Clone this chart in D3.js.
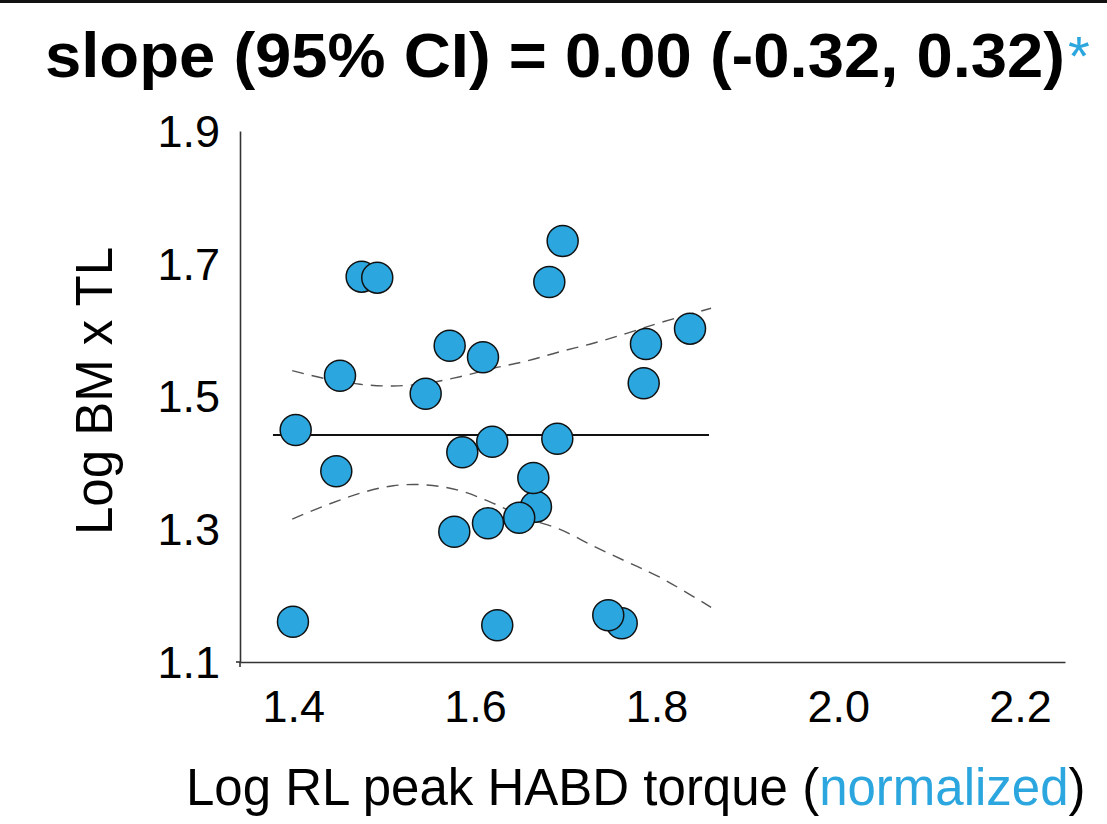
<!DOCTYPE html>
<html>
<head>
<meta charset="utf-8">
<script src="https://cdn.jsdelivr.net/npm/d3@7"></script>
<style>
  body { margin: 0; background: #fff; }
  svg { display: block; font-family: "Liberation Sans", Arial, Helvetica, sans-serif; }
</style>
</head>
<body>
<svg id="chart"></svg>
<script>
// Canvas size
var w = 1107;
var h = 824;

// Scatter points (drawn in this order, later ones sit on top)
var logTorque = [1.4753, 1.4925, 1.6966, 1.6819, 1.5722, 1.6089, 1.4515, 1.5458, 1.7883, 1.8368,
                 1.7858, 1.4027, 1.5861, 1.6191, 1.6907, 1.4474, 1.6672, 1.6643, 1.6488, 1.6144,
                 1.5773, 1.3997, 1.6246, 1.7616, 1.7468];
var logBMxTL = [1.6805, 1.6790, 1.7343, 1.6725, 1.5765, 1.5591, 1.5313, 1.5042, 1.5791, 1.6022,
                1.5199, 1.4495, 1.4159, 1.4319, 1.4364, 1.3873, 1.3340, 1.3772, 1.3174, 1.3090,
                1.2963, 1.1607, 1.1553, 1.1583, 1.1704];

// Regression line
var fitX = [1.3777, 1.8577];
var fitY = [1.442, 1.442];

// 95% confidence band
var ciX = [1.3989, 1.4368, 1.4735, 1.5101, 1.5469, 1.5836, 1.6202, 1.6570, 1.6937, 1.7303, 1.7671, 1.8037, 1.8600];
var ciUpper = [1.5389, 1.5264, 1.5184, 1.5158, 1.5199, 1.5298, 1.5425, 1.5535, 1.5675, 1.5802, 1.5952, 1.6112, 1.6329];
var ciLower = [1.3154, 1.3365, 1.3542, 1.3656, 1.3667, 1.3581, 1.3391, 1.3165, 1.2999, 1.2748, 1.2511, 1.2276, 1.1824];

// Tick labels
var xTicks = [1.4, 1.6, 1.8, 2.0, 2.2];
var yTicks = [1.1, 1.3, 1.5, 1.7, 1.9];

var blue = "#2ba6de";

var svg = d3.select("#chart")
    .attr("width", w)
    .attr("height", h);

// Black rule along the top edge
svg.append("rect")
    .attr("x", 0)
    .attr("y", 0)
    .attr("width", w)
    .attr("height", 3)
    .attr("fill", "#111");

// Scales
var xScale = d3.scaleLinear()
    .domain([1.3414, 2.2496])
    .range([240, 1065]);

var yScale = d3.scaleLinear()
    .domain([1.1, 1.9])
    .range([662, 131]);

// Title
var title = svg.append("text")
    .attr("x", 45)
    .attr("y", 77)
    .attr("font-size", "63px")
    .attr("font-weight", "bold")
    .attr("fill", "#000");
title.append("tspan")
    .attr("textLength", 1020)
    .attr("lengthAdjust", "spacingAndGlyphs")
    .text("slope (95% CI) = 0.00 (-0.32, 0.32)");
title.append("tspan")
    .attr("font-weight", "normal")
    .attr("font-size", "56px")
    .attr("dx", 3)
    .attr("dy", -2)
    .attr("fill", blue)
    .text("*");

// X axis
svg.append("g")
    .attr("class", "x-axis")
    .attr("transform", "translate(0,662)")
    .call(d3.axisBottom(xScale).tickValues(xTicks).tickSize(0).tickPadding(28).tickFormat(d3.format(".1f")))
    .call(g => g.select(".domain").attr("stroke", "#333").attr("stroke-width", 1.6))
    .selectAll("text")
    .attr("font-size", "45px")
    .attr("font-family", "Liberation Sans, Arial, sans-serif")
    .attr("fill", "#000");

// Y axis
svg.append("g")
    .attr("class", "y-axis")
    .attr("transform", "translate(240,0)")
    .call(d3.axisLeft(yScale).tickValues(yTicks).tickSize(0).tickPadding(20).tickFormat(d3.format(".1f")))
    .call(g => g.select(".domain").attr("stroke", "#333").attr("stroke-width", 1.6))
    .selectAll("text")
    .attr("font-size", "45px")
    .attr("font-family", "Liberation Sans, Arial, sans-serif")
    .attr("dy", "0.34em")
    .attr("fill", "#000");

// little overhang at the corner
svg.append("line")
    .attr("x1", 240).attr("x2", 240)
    .attr("y1", 662).attr("y2", 667)
    .attr("stroke", "#333").attr("stroke-width", 1.6);
svg.append("line")
    .attr("x1", 236).attr("x2", 240)
    .attr("y1", 662).attr("y2", 662)
    .attr("stroke", "#333").attr("stroke-width", 1.6);

// Confidence band lines
var ciLine = d3.line()
    .x(d => xScale(d[0]))
    .y(d => yScale(d[1]))
    .curve(d3.curveCatmullRom);

[ciUpper, ciLower].forEach(function (band) {
    svg.append("path")
        .datum(ciX.map((x, i) => [x, band[i]]))
        .attr("fill", "none")
        .attr("stroke", "#555")
        .attr("stroke-width", 1.4)
        .attr("stroke-dasharray", "12,8")
        .attr("d", ciLine);
});

// Regression line
svg.append("path")
    .datum(fitX.map((x, i) => [x, fitY[i]]))
    .attr("fill", "none")
    .attr("stroke", "#111")
    .attr("stroke-width", 2)
    .attr("d", ciLine);

// Points
svg.selectAll(".dot")
    .data(logTorque.map((x, i) => [x, logBMxTL[i]]))
    .enter()
    .append("circle")
    .attr("class", "dot")
    .attr("cx", d => xScale(d[0]))
    .attr("cy", d => yScale(d[1]))
    .attr("r", 15.5)
    .attr("fill", blue)
    .attr("stroke", "#111")
    .attr("stroke-width", 1.5);

// Y axis label
svg.append("text")
    .attr("transform", "translate(112,391) rotate(-90)")
    .attr("text-anchor", "middle")
    .attr("font-size", "51px")
    .attr("fill", "#000")
    .text("Log BM x TL");

// X axis label
var xLabel = svg.append("text")
    .attr("x", 186)
    .attr("y", 805)
    .attr("font-size", "51px")
    .attr("fill", "#000");
xLabel.append("tspan").text("Log RL peak HABD torque (");
xLabel.append("tspan").attr("fill", blue).text("normalized");
xLabel.append("tspan").text(")");
</script>
</body>
</html>
